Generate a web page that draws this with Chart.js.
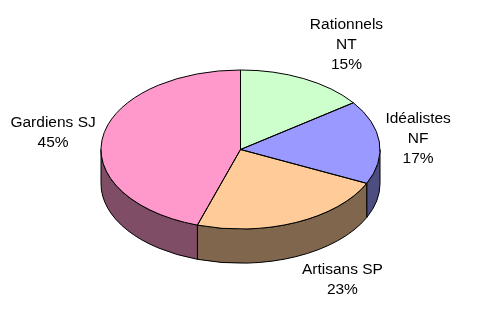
<!DOCTYPE html>
<html>
<head>
<meta charset="utf-8">
<script src="https://cdn.jsdelivr.net/npm/chart.js@4/dist/chart.umd.min.js"></script>
<style>
  html,body{margin:0;padding:0;background:#fff;}
  #wrap{width:478px;height:323px;}
</style>
</head>
<body>
<div id="wrap"><canvas id="pie"></canvas></div>
<script>
// ===== DATA =====
const categories = [["Rationnels","NT"], ["Idéalistes","NF"], ["Artisans SP"], ["Gardiens SJ"]];
const values = [15, 17, 23, 45];
const topColors = ["#CCFFCC", "#9999FF", "#FFCC99", "#FF99CC"];
const sideColors = ["#668066", "#4D4D80", "#80664D", "#804D66"];

// 3d look
const TILT = 0.57;     // vertical squash of the top face
const DEPTH = 0.245;   // side height relative to radius
const FONT = "15.5px 'Liberation Sans', Arial, sans-serif";
const LINE_H = 20;

const pie3d = {
  id: "pie3d",
  beforeDatasetsDraw(chart){
    const ctx = chart.ctx;
    const arcs = chart.getDatasetMeta(0).data;
    const cx = arcs[0].x, cy = arcs[0].y, R = arcs[0].outerRadius;
    const d = R*DEPTH;

    // side walls (front half only)
    arcs.forEach((a,i)=>{
      let s = Math.max(a.startAngle, 0);
      let e = Math.min(a.endAngle, Math.PI);
      if(s>=e) return;
      ctx.beginPath();
      ctx.ellipse(cx, cy, R, R*TILT, 0, s, e);
      ctx.ellipse(cx, cy+d, R, R*TILT, 0, e, s, true);
      ctx.closePath();
      ctx.fillStyle = sideColors[i];
      ctx.fill();
      ctx.lineWidth = 1;
      ctx.strokeStyle = "#000";
      ctx.stroke();
    });

    // squash the top face
    ctx.save();
    ctx.translate(cx, cy);
    ctx.scale(1, TILT);
    ctx.translate(-cx, -cy);
  },
  afterDatasetsDraw(chart){
    const ctx = chart.ctx;
    ctx.restore();
    const arcs = chart.getDatasetMeta(0).data;
    const cx = arcs[0].x, cy = arcs[0].y, R = arcs[0].outerRadius;
    const d = R*DEPTH;

    // outlines of top slices
    ctx.lineWidth = 1;
    ctx.strokeStyle = "#000";
    arcs.forEach(a=>{
      ctx.beginPath();
      ctx.moveTo(cx, cy);
      ctx.ellipse(cx, cy, R, R*TILT, 0, a.startAngle, a.endAngle);
      ctx.closePath();
      ctx.stroke();
    });

    // labels
    const total = values.reduce((p,c)=>p+c, 0);
    ctx.font = FONT;
    ctx.fillStyle = "#000";
    ctx.textAlign = "center";
    ctx.textBaseline = "middle";
    arcs.forEach((a,i)=>{
      const m = (a.startAngle + a.endAngle)/2;
      const c = Math.cos(m), sn = Math.sin(m);
      const ex = cx + R*c, ey = cy + R*TILT*sn;
      const lines = categories[i].concat([Math.round(values[i]/total*100) + "%"]);
      const w = Math.max(...lines.map(t=>ctx.measureText(t).width));
      const h = lines.length*LINE_H;
      const mx = c>=0 ? ex + 6 + w/2 : ex - 7 - w/2;
      const my = ey + sn*(h/2 + 8) + (sn>0 ? d*sn : 0);
      lines.forEach((t,j)=>{
        ctx.fillText(t, mx, my - h/2 + LINE_H*(j+0.5));
      });
    });
  }
};

new Chart(document.getElementById("pie"), {
  type: "pie",
  data: {
    labels: categories.map(c=>c.join(" ")),
    datasets: [{
      data: values,
      backgroundColor: topColors,
      borderWidth: 0,
      hoverOffset: 0
    }]
  },
  options: {
    responsive: true,
    maintainAspectRatio: false,
    animation: false,
    layout: {padding: {left: 101, right: 98, top: 10, bottom: 34}},
    plugins: {legend: {display: false}, tooltip: {enabled: false}}
  },
  plugins: [pie3d]
});
</script>
</body>
</html>
